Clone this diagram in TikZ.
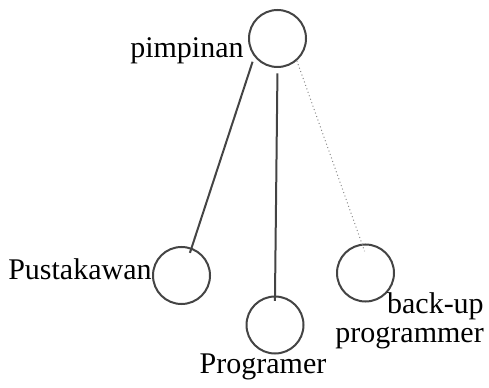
\documentclass[tikz,border=0pt]{standalone}
\usepackage{fontspec}
\setmainfont{Liberation Serif}
\usetikzlibrary{positioning}

\definecolor{linegray}{HTML}{444444}
\definecolor{dotgray}{HTML}{8A8A8A}

\begin{document}
\begin{tikzpicture}[
  x=0.75pt, y=-0.75pt,
  role/.style={circle, draw=linegray, line width=1.5pt, minimum size=42.75pt, inner sep=0pt},
  roletext/.style={inner sep=0pt, font=\fontsize{22.5}{21.75}\selectfont},
  tie/.style={draw=linegray, line width=1.5pt},
  loose/.style={draw=dotgray, line width=0.75pt, dotted},
]
  \useasboundingbox (0,0) rectangle (489,388);

  \node[role] (lead) at (277.5,38.5) {};
  \node[role] (lib)  at (181.5,275.5) {};
  \node[role] (prog) at (275,325) {};
  \node[role] (back) at (365.5,273) {};

  \node[roletext, anchor=base west] (leadtxt) at (130,58) {pimpinan};
  \node[roletext, anchor=base west] (libtxt)  at (8,280) {Pustakawan};
  \node[roletext, anchor=base]      (progtxt) at (263,373) {Programer};
  % base of a two-line node sits on its last line
  \node[roletext, anchor=base east, align=right] (backtxt) at (484,343) {back-up\\programmer};

  \draw[tie, shorten <=4pt, shorten >=-4pt] (lead.218) -- (lib.70);
  \draw[tie, shorten <=4pt, shorten >=-4pt] (lead.south) -- (prog.north);
  \draw[loose, shorten >=-6pt] (lead.311) -- (back.97);
\end{tikzpicture}
\end{document}
